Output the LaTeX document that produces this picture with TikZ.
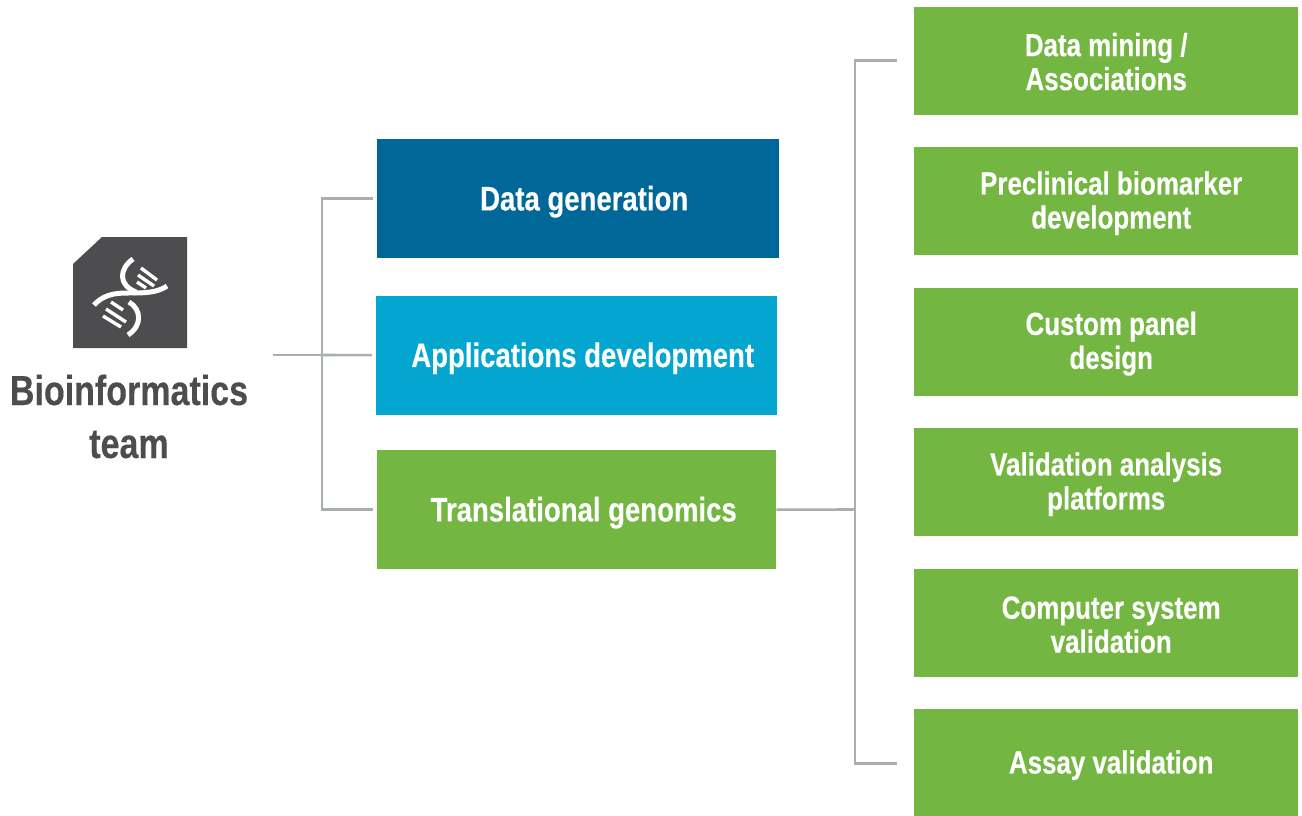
\documentclass[tikz,border=0pt]{standalone}
\usepackage{fontspec}
\newfontfamily\condfont{Liberation Sans}[FakeStretch=0.81,BoldFeatures={FakeBold=0.3}]
\definecolor{dgblue}{HTML}{006898}
\definecolor{adblue}{HTML}{02A6CF}
\definecolor{tggreen}{HTML}{73B641}
\definecolor{linegray}{HTML}{A9AEB1}
\definecolor{icongray}{HTML}{4D4D4F}
\tikzset{
  bigbox/.style={rectangle, inner sep=0pt, anchor=north west},
  bigtext/.style={inner sep=0pt, text=white, align=center,
    font=\condfont\bfseries\fontsize{34}{34}\selectfont},
  subbox/.style={rectangle, inner sep=0pt, anchor=north west,
    fill=tggreen, minimum width=384pt, minimum height=108pt},
  subtext/.style={inner sep=0pt, text=white, align=center,
    font=\condfont\bfseries\fontsize{32}{34}\selectfont},
  conn/.style={draw=linegray, line width=2.6pt},
  titletext/.style={inner sep=0pt, anchor=base, text=icongray,
    font=\condfont\bfseries\fontsize{42}{53}\selectfont},
  helix/.style={draw=white, line width=5pt},
  rung/.style={draw=white, line width=3.4pt}
}
\begin{document}
\begin{tikzpicture}[x=1pt,y=-1pt]
\useasboundingbox (0,0) rectangle (1302,816);
% icon
\fill[icongray] (73,264) -- (102,237) -- (187,237) -- (187,348) -- (73,348) -- cycle;
\draw[helix] (133,259) .. controls (119,269) and (118,285) .. (136,292);
\draw[helix] (94,305) .. controls (106,292) and (120,293) .. (135,293) .. controls (150,293) and (160,291) .. (167,286);
\draw[helix] (129,302) .. controls (141,309) and (143,325) .. (128,335);
\draw[rung] (141,268) -- (157,280);
\draw[rung] (138,275) -- (154,286);
\draw[rung] (137,282) -- (146,288);
\draw[rung] (111,302) -- (123,310);
\draw[rung] (106,309) -- (126,322);
\draw[rung] (103,316) -- (121,327);
% title
\node[titletext] (bt1) at (129,405) {Bioinformatics};
\node[titletext] (bt2) at (129,458) {team};
% left boxes
\node[bigbox, fill=dgblue, minimum width=402pt, minimum height=119pt] (dg) at (377,139) {};
\node[bigbox, fill=adblue, minimum width=401pt, minimum height=119pt] (ad) at (376,295.5) {};
\node[bigbox, fill=tggreen, minimum width=399pt, minimum height=119pt] (tg) at (377,450) {};
\node[bigtext] (dgt) at ([xshift=6pt,yshift=-3pt]dg.center) {Data generation};
\node[bigtext] (adt) at ([xshift=6pt,yshift=-3pt]ad.center) {Applications development};
\node[bigtext] (tgt) at ([xshift=7pt,yshift=-3pt]tg.center) {Translational genomics};
% right boxes
\node[subbox] (r1) at (914,6.5) {};
\node[subbox] (r2) at (914,147) {};
\node[subbox] (r3) at (914,287.5) {};
\node[subbox] (r4) at (914,428) {};
\node[subbox] (r5) at (914,568.5) {};
\node[subbox] (r6) at (914,709) {};
\node[subtext] (r1t) at ([yshift=-1pt]r1.center) {Data mining /\\Associations};
\node[subtext] (r2t) at ([xshift=5pt,yshift=-2pt]r2.center) {Preclinical biomarker\\development};
\node[subtext] (r3t) at ([xshift=5pt,yshift=-2pt]r3.center) {Custom panel\\design};
\node[subtext] (r4t) at ([yshift=-2pt]r4.center) {Validation analysis\\platforms};
\node[subtext] (r5t) at ([xshift=5pt,yshift=-2pt]r5.center) {Computer system\\validation};
\node[subtext] (r6t) at ([xshift=5pt,yshift=-2pt]r6.center) {Assay validation};
% left connectors
\coordinate (ls) at (273,355);
\coordinate (lj) at (322,355);
\draw[conn] (ls) -- (lj);
\draw[conn, shorten >=4pt] (lj) |- (dg.west);
\draw[conn, shorten >=4pt] (lj) -- (ad.west);
\draw[conn, shorten >=4pt] (lj) |- (tg.west);
% right connectors
\coordinate (rj) at (855,509.5);
\draw[conn] (tg.east) -- (rj);
\draw[conn, shorten >=17pt] (rj) |- (r1.west);
\draw[conn, shorten >=17pt] (rj) |- (r6.west);
\end{tikzpicture}
\end{document}
